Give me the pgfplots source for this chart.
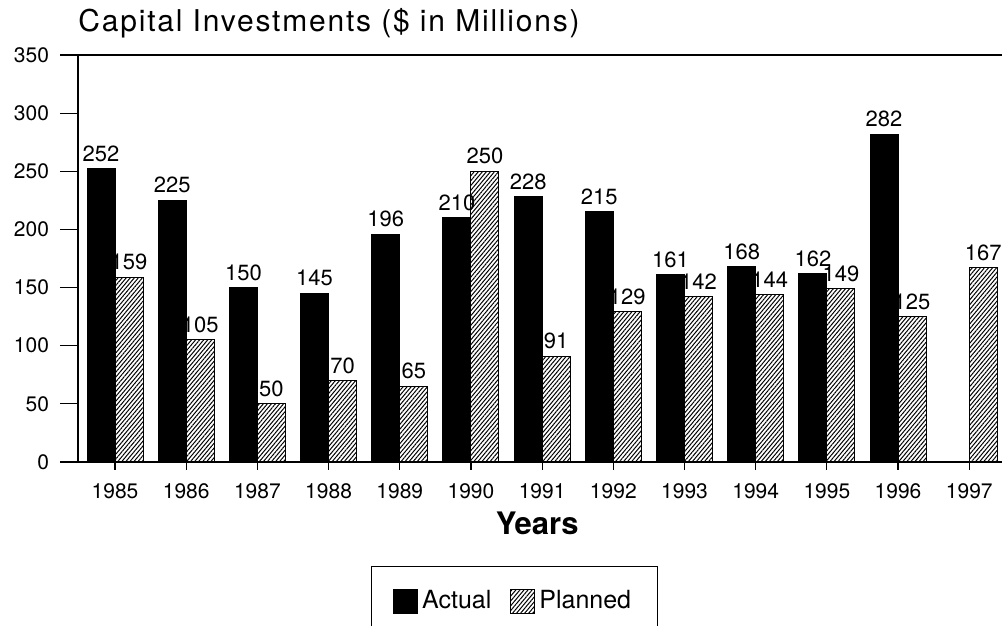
\documentclass[border=0pt]{standalone}
\usepackage{pgfplots}
\pgfplotsset{compat=1.18}
\usepackage{fontspec}
\setmainfont{TeX Gyre Heros}
\usetikzlibrary{patterns.meta}

\begin{document}
\begin{tikzpicture}
\begin{axis}[
  scale only axis, width=462pt, height=203.5pt,
  at={(0,0)}, anchor=south west,
  clip=false,
  xmin=-0.52, xmax=12.46, ymin=0, ymax=350,
  ybar=0pt, bar width=14pt,
  axis lines*=left,
  axis line style={line width=0.8pt},
  xtick={0,1,2,3,4,5,6,7,8,9,10,11,12},
  xticklabels={1985,1986,1987,1988,1989,1990,1991,1992,1993,1994,1995,1996,1997},
  ytick={0,50,100,150,200,250,300,350},
  tick align=outside, major tick length=9pt,
  xtick style={/pgfplots/major tick length=4pt, line width=0.6pt, black},
  ytick style={line width=0.6pt, black},
  tick label style={font=\fontsize{10.5}{12}\selectfont},
  /pgf/number format/assume math mode=true,
  yticklabel style={xshift=-2pt},
  xticklabel style={yshift=1.5pt},
  nodes near coords,
  nodes near coords style={font=\fontsize{11}{13}\selectfont, black},
  legend image code/.code={\draw[#1, line width=0.5pt] (0pt,-6pt) rectangle (12pt,6pt);},
  legend style={at={(0.472,-0.2555)}, anchor=north, draw=black, line width=0.6pt,
    font=\fontsize{12.5}{15}\selectfont, inner xsep=11pt, inner ysep=10pt,
    /tikz/every even column/.append style={column sep=7.5pt}},
  legend columns=2,
]
\addplot[fill=black, draw=black, line width=0.5pt] coordinates {
(0,252) (1,225) (2,150) (3,145) (4,196) (5,210) (6,228) (7,215) (8,161) (9,168) (10,162) (11,282)};
\addlegendentry{Actual}
\addplot[draw=black, line width=0.5pt, pattern={Lines[angle=50,distance=1.55pt,line width=0.5pt]}] coordinates {
(0,159) (1,105) (2,50) (3,70) (4,65) (5,250) (6,91) (7,129) (8,142) (9,144) (10,149) (11,125) (12,167)};
\addlegendentry{Planned}
\draw[line width=0.8pt] (rel axis cs:0,1) -- (rel axis cs:1,1);
\node[anchor=base west, inner sep=0pt, font=\fontsize{15}{18}\selectfont\addfontfeatures{LetterSpace=6}] at ([yshift=11.5pt]rel axis cs:0,1) {Capital Investments (\$ in Millions)};
\node[anchor=base, inner sep=0pt, font=\fontsize{15.5}{18}\selectfont\bfseries] at ([yshift=-36.5pt]rel axis cs:0.497,0) {Years};
\end{axis}
\pgfresetboundingbox
\path[use as bounding box] (-39pt,-82pt) rectangle (462pt,231pt);
\end{tikzpicture}
\end{document}
